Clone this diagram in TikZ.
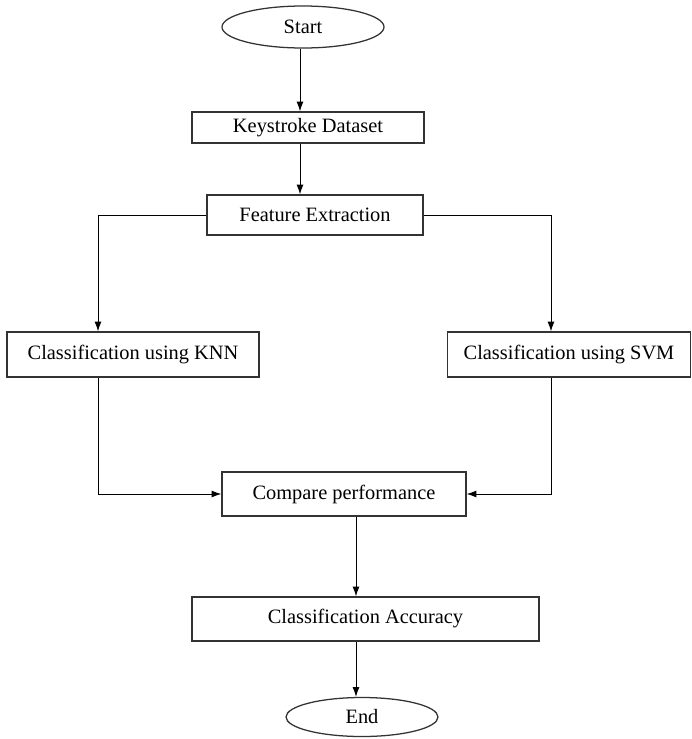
\documentclass[tikz,border=0pt]{standalone}
\usepackage{fontspec}
\setmainfont{Liberation Serif}
\usetikzlibrary{arrows.meta}
\usetikzlibrary{shapes.geometric}
\newcommand{\px}{0.025cm}

\begin{document}
\begin{tikzpicture}[x=0.025cm,y=-0.025cm,
	font=\fontsize{14.5}{17}\selectfont,
	box/.style={draw=black!80,line width=0.9pt,rectangle,inner sep=0pt},
	term/.style={draw=black!80,line width=0.9pt,ellipse,inner sep=0pt},
	arr/.style={-{Latex[length=7pt,width=5pt]},line width=0.7pt}]
		\useasboundingbox (0,0) rectangle (692,739);

		\node[term,minimum width=162*\px,minimum height=42*\px] (start) at (303,27) {Start};
		\node[box,minimum width=232*\px,minimum height=31*\px] (keys) at (308,127.5) {Keystroke Dataset};
		\node[box,minimum width=216*\px,minimum height=40*\px] (feat) at (315,215) {Feature Extraction};
		\node[box,minimum width=252*\px,minimum height=45*\px] (knn) at (133,354.5) {Classification using KNN};
		\node[box,minimum width=243*\px,minimum height=45*\px] (svm) at (569,354.5) {Classification using SVM};
		\node[box,minimum width=244*\px,minimum height=44*\px] (cmp) at (344,494) {Compare performance};
		\node[box,minimum width=347*\px,minimum height=44*\px] (acc) at (365.5,619) {Classification Accuracy};
		\node[term,minimum width=152*\px,minimum height=39*\px] (end) at (362,717) {End};

		% where the vertical lines run
		\coordinate (kx) at (98,0);
		\coordinate (sx) at (551,0);
		\coordinate (mx) at (356,0);
		\coordinate (tx) at (300,0);

		\draw[arr] (tx |- start.south) -- (tx |- keys.north);
		\draw[arr] (tx |- keys.south) -- (tx |- feat.north);
		\draw[arr] (feat.west) -| (kx |- knn.north);
		\draw[arr] (feat.east) -| (sx |- svm.north);
		\draw[arr] (kx |- knn.south) |- (cmp.west);
		\draw[arr] (sx |- svm.south) |- (cmp.east);
		\draw[arr] (mx |- cmp.south) -- (mx |- acc.north);
		\draw[arr] (mx |- acc.south) -- (mx |- end.north);
\end{tikzpicture}
\end{document}
